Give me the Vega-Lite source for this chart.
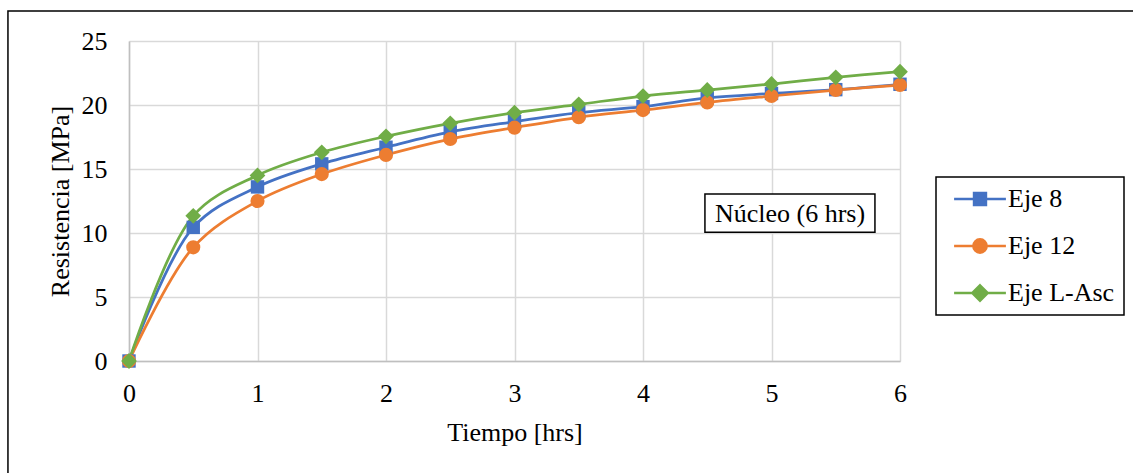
{
  "$schema": "https://vega.github.io/schema/vega-lite/v6.json",
  "width": 771,
  "height": 320,
  "autosize": "none",
  "padding": {"left": 129, "top": 41, "right": 233, "bottom": 112},
  "background": "white",
  "config": {
    "font": "Liberation Serif",
    "view": {"stroke": null},
    "axis": {
      "labelFont": "Liberation Serif",
      "titleFont": "Liberation Serif",
      "labelFontSize": 26,
      "titleFontSize": 26,
      "labelColor": "black",
      "titleColor": "black",
      "titleFontWeight": "normal",
      "gridColor": "#d9d9d9",
      "gridWidth": 1.5,
      "domainColor": "#bfbfbf",
      "domainWidth": 1.5,
      "ticks": false,
      "labelFlush": false
    },
    "legend": {
      "labelFont": "Liberation Serif",
      "labelFontSize": 26,
      "labelColor": "black"
    }
  },
  "datasets": {
    "series": [
      {"t": 0, "r": 0, "serie": "Eje 8"},
      {"t": 0.5, "r": 10.44, "serie": "Eje 8"},
      {"t": 1, "r": 13.6, "serie": "Eje 8"},
      {"t": 1.5, "r": 15.4, "serie": "Eje 8"},
      {"t": 2, "r": 16.7, "serie": "Eje 8"},
      {"t": 2.5, "r": 17.9, "serie": "Eje 8"},
      {"t": 3, "r": 18.7, "serie": "Eje 8"},
      {"t": 3.5, "r": 19.4, "serie": "Eje 8"},
      {"t": 4, "r": 19.87, "serie": "Eje 8"},
      {"t": 4.5, "r": 20.55, "serie": "Eje 8"},
      {"t": 5, "r": 20.9, "serie": "Eje 8"},
      {"t": 5.5, "r": 21.2, "serie": "Eje 8"},
      {"t": 6, "r": 21.62, "serie": "Eje 8"},
      {"t": 0, "r": 0, "serie": "Eje 12"},
      {"t": 0.5, "r": 8.88, "serie": "Eje 12"},
      {"t": 1, "r": 12.5, "serie": "Eje 12"},
      {"t": 1.5, "r": 14.6, "serie": "Eje 12"},
      {"t": 2, "r": 16.1, "serie": "Eje 12"},
      {"t": 2.5, "r": 17.34, "serie": "Eje 12"},
      {"t": 3, "r": 18.23, "serie": "Eje 12"},
      {"t": 3.5, "r": 19.04, "serie": "Eje 12"},
      {"t": 4, "r": 19.6, "serie": "Eje 12"},
      {"t": 4.5, "r": 20.2, "serie": "Eje 12"},
      {"t": 5, "r": 20.7, "serie": "Eje 12"},
      {"t": 5.5, "r": 21.17, "serie": "Eje 12"},
      {"t": 6, "r": 21.56, "serie": "Eje 12"},
      {"t": 0, "r": 0, "serie": "Eje L-Asc"},
      {"t": 0.5, "r": 11.34, "serie": "Eje L-Asc"},
      {"t": 1, "r": 14.5, "serie": "Eje L-Asc"},
      {"t": 1.5, "r": 16.3, "serie": "Eje L-Asc"},
      {"t": 2, "r": 17.55, "serie": "Eje L-Asc"},
      {"t": 2.5, "r": 18.57, "serie": "Eje L-Asc"},
      {"t": 3, "r": 19.4, "serie": "Eje L-Asc"},
      {"t": 3.5, "r": 20.05, "serie": "Eje L-Asc"},
      {"t": 4, "r": 20.7, "serie": "Eje L-Asc"},
      {"t": 4.5, "r": 21.17, "serie": "Eje L-Asc"},
      {"t": 5, "r": 21.64, "serie": "Eje L-Asc"},
      {"t": 5.5, "r": 22.16, "serie": "Eje L-Asc"},
      {"t": 6, "r": 22.6, "serie": "Eje L-Asc"}
    ],
    "note": [{"label": "Núcleo (6 hrs)"}]
  },
  "layer": [
    {
      "data": {"name": "note"},
      "mark": {"type": "rect", "fill": null, "stroke": "black", "strokeWidth": 1.5, "clip": false},
      "encoding": {
        "x": {"datum": -0.942, "type": "quantitative", "scale": {"domain": [0, 6], "nice": false}},
        "x2": {"datum": 8.5},
        "y": {"datum": 27.34, "type": "quantitative", "scale": {"domain": [0, 25], "nice": false}},
        "y2": {"datum": -12}
      }
    },
    {
      "data": {"name": "series"},
      "mark": {"type": "line", "interpolate": "catmull-rom", "strokeWidth": 2.75},
      "encoding": {
        "x": {"field": "t", "type": "quantitative", "scale": {"domain": [0, 6], "nice": false},
          "axis": {"title": "Tiempo [hrs]", "values": [0, 1, 2, 3, 4, 5, 6], "grid": true, "labelPadding": 19, "titlePadding": 13, "format": "d"}},
        "y": {"field": "r", "type": "quantitative", "scale": {"domain": [0, 25], "nice": false},
          "axis": {"title": "Resistencia [MPa]", "values": [0, 5, 10, 15, 20, 25], "grid": true, "labelPadding": 22, "titlePadding": 8}},
        "color": {"field": "serie", "type": "nominal", "sort": ["Eje 8", "Eje 12", "Eje L-Asc"],
          "scale": {"domain": ["Eje 8", "Eje 12", "Eje L-Asc"], "range": ["#4472C4", "#ED7D31", "#70AD47"]},
          "legend": {
            "title": null,
            "orient": "none",
            "legendX": 807,
            "legendY": 136,
            "strokeColor": "black",
            "fillColor": "white",
            "padding": 9,
            "rowPadding": 21,
            "symbolSize": 196,
            "symbolOffset": 22,
            "labelOffset": 15,
            "symbolStrokeWidth": 2.5,
            "encode": {
              "legend": {"update": {"strokeWidth": {"value": 1.5}}},
              "symbols": {
                "update": {
                  "shape": {"signal": "datum.value === 'Eje 8' ? 'M-3.7,0H3.7M-0.85,-0.85H0.85V0.85H-0.85Z' : datum.value === 'Eje 12' ? 'M-3.7,0H3.7M-0.95,0A0.95,0.95 0 1,0 0.95,0A0.95,0.95 0 1,0 -0.95,0Z' : 'M-3.7,0H3.7M0,-1.1L1.1,0L0,1.1L-1.1,0Z'"},
                  "stroke": {"signal": "scale('color', datum.value)"},
                  "fill": {"signal": "scale('color', datum.value)"},
                  "strokeWidth": {"value": 2.5},
                  "opacity": {"value": 1}
                }
              }
            }
          }}
      }
    },
    {
      "data": {"name": "series"},
      "transform": [{"filter": "datum.serie === 'Eje 8'"}],
      "mark": {"type": "point", "filled": true, "opacity": 1, "shape": "square", "size": 180},
      "encoding": {
        "x": {"field": "t", "type": "quantitative"},
        "y": {"field": "r", "type": "quantitative"},
        "color": {"field": "serie", "type": "nominal"}
      }
    },
    {
      "data": {"name": "series"},
      "transform": [{"filter": "datum.serie === 'Eje 12'"}],
      "mark": {"type": "point", "filled": true, "opacity": 1, "shape": "circle", "size": 200},
      "encoding": {
        "x": {"field": "t", "type": "quantitative"},
        "y": {"field": "r", "type": "quantitative"},
        "color": {"field": "serie", "type": "nominal"}
      }
    },
    {
      "data": {"name": "series"},
      "transform": [{"filter": "datum.serie === 'Eje L-Asc'"}],
      "mark": {"type": "point", "filled": true, "opacity": 1, "shape": "diamond", "size": 250},
      "encoding": {
        "x": {"field": "t", "type": "quantitative"},
        "y": {"field": "r", "type": "quantitative"},
        "color": {"field": "serie", "type": "nominal"}
      }
    },
    {
      "data": {"name": "note"},
      "mark": {"type": "rect", "fill": "white", "stroke": "black", "strokeWidth": 1.5},
      "encoding": {
        "x": {"datum": 4.482, "type": "quantitative"},
        "x2": {"datum": 5.805},
        "y": {"datum": 13.05, "type": "quantitative"},
        "y2": {"datum": 10.05}
      }
    },
    {
      "data": {"name": "note"},
      "mark": {"type": "text", "fontSize": 26, "font": "Liberation Serif", "color": "black", "align": "center", "baseline": "middle"},
      "encoding": {
        "x": {"datum": 5.144, "type": "quantitative"},
        "y": {"datum": 11.52, "type": "quantitative"},
        "text": {"field": "label"}
      }
    }
  ]
}
